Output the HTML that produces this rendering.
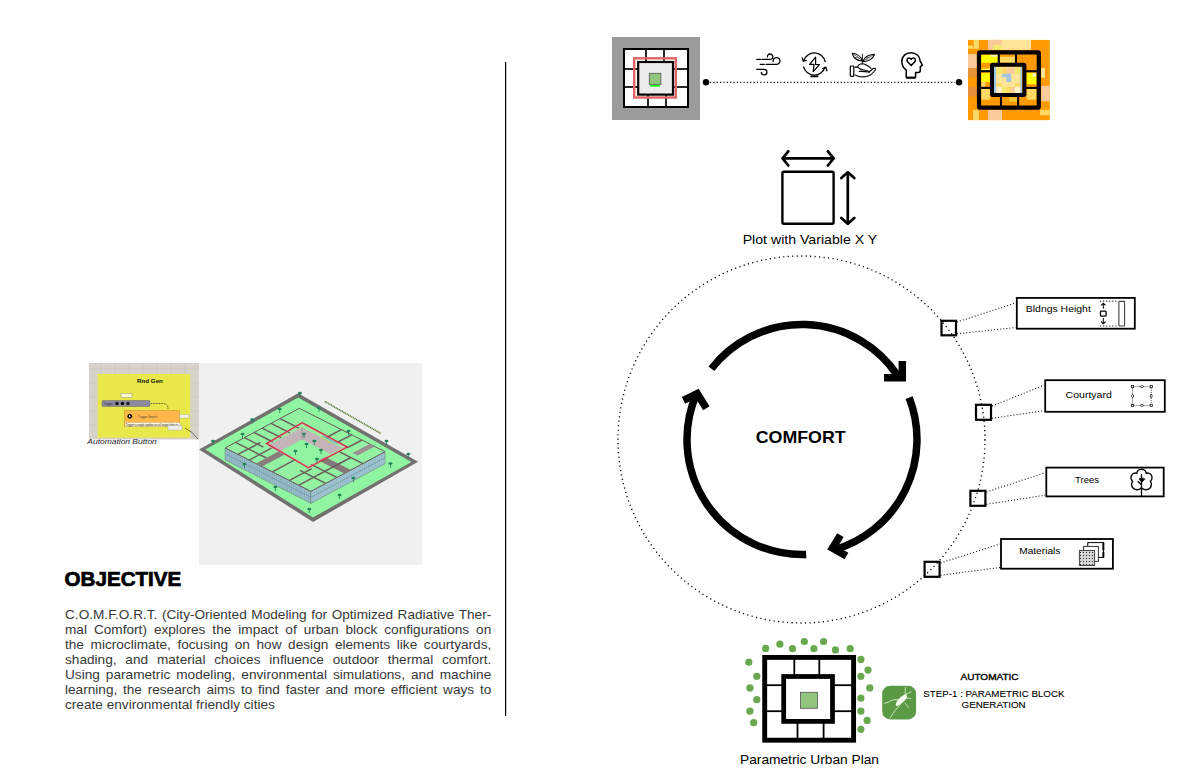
<!DOCTYPE html>
<html><head><meta charset="utf-8"><style>
html,body{margin:0;padding:0;background:#fff;width:1192px;height:783px;overflow:hidden;position:relative;font-family:"Liberation Sans",sans-serif}
#para{position:absolute;left:64.6px;top:607.8px;width:387.5px;transform:scaleX(1.1);transform-origin:0 0;color:#383838;font-size:12.4px;line-height:15px}
.pl{white-space:nowrap;text-align:justify;text-align-last:justify;height:15px}
.pl.last{text-align-last:left}
</style></head><body>
<svg width="1192" height="783" viewBox="0 0 1192 783" style="position:absolute;left:0;top:0"><rect x="505" y="62" width="1.2" height="654" fill="#000"/>
<rect x="612" y="37" width="88" height="83" fill="#9b9b9b"/><rect x="623" y="48" width="66" height="60" fill="#fff"/><rect x="624" y="49" width="64" height="58" fill="none" stroke="#000" stroke-width="2"/><line x1="646" y1="49" x2="646" y2="62" stroke="#000" stroke-width="1.7"/><line x1="664" y1="49" x2="664" y2="62" stroke="#000" stroke-width="1.7"/><line x1="648" y1="94" x2="648" y2="107" stroke="#000" stroke-width="1.7"/><line x1="666" y1="94" x2="666" y2="107" stroke="#000" stroke-width="1.7"/><line x1="624" y1="69" x2="638" y2="69" stroke="#000" stroke-width="1.7"/><line x1="672" y1="69" x2="688" y2="69" stroke="#000" stroke-width="1.7"/><line x1="624" y1="87" x2="638" y2="87" stroke="#000" stroke-width="1.7"/><line x1="672" y1="87" x2="688" y2="87" stroke="#000" stroke-width="1.7"/><rect x="634.2" y="58.3" width="41.6" height="39.2" fill="none" stroke="#e06666" stroke-width="2.4"/><rect x="638.2" y="62" width="34.8" height="32.6" fill="#ececec" stroke="#000" stroke-width="2.2"/><rect x="649.3" y="73.3" width="11.6" height="11" fill="#93c47d" stroke="#555" stroke-width="0.8"/><rect x="650" y="85" width="10" height="1.6" fill="#00ff00"/>
<circle cx="706" cy="82.2" r="3.2" fill="#000"/>
<circle cx="959" cy="82.2" r="3.2" fill="#000"/>
<line x1="710" y1="82.3" x2="955" y2="82.3" stroke="#000" stroke-width="1.15" stroke-dasharray="1.15 2.2"/>
<rect x="968.00" y="39.93" width="81.78" height="80.17" fill="#ff9900"/><rect x="973.59" y="39.93" width="5.37" height="8.80" fill="#ffd966"/><rect x="968.00" y="45.51" width="5.04" height="3.22" fill="#ffd966"/><rect x="988.07" y="39.93" width="13.95" height="9.87" fill="#f9cb9c"/><rect x="992.90" y="44.98" width="9.12" height="4.83" fill="#f1ea6f"/><rect x="1002.03" y="39.93" width="28.98" height="9.87" fill="#ffe599"/><rect x="968.00" y="54.10" width="8.80" height="13.95" fill="#f9cb9c"/><rect x="968.00" y="68.05" width="8.80" height="9.12" fill="#e69138"/><rect x="968.00" y="86.83" width="8.80" height="9.66" fill="#e69138"/><rect x="973.05" y="109.90" width="5.90" height="10.20" fill="#ffd966"/><rect x="1041.20" y="68.05" width="3.76" height="9.66" fill="#ffe599"/><rect x="1041.20" y="85.76" width="8.59" height="15.56" fill="#f9cb9c"/><rect x="1040.12" y="109.90" width="9.66" height="5.37" fill="#ffd966"/><rect x="988.07" y="109.90" width="13.95" height="10.20" fill="#f9cb9c"/><rect x="981.10" y="54.63" width="16.63" height="8.26" fill="#ffff00"/><rect x="990.76" y="54.63" width="6.98" height="2.15" fill="#fff2cc"/><rect x="999.88" y="54.63" width="15.02" height="8.26" fill="#ffd966"/><rect x="999.88" y="54.63" width="15.02" height="2.15" fill="#ff9900"/><rect x="981.10" y="68.59" width="8.80" height="2.15" fill="#ffff00"/><rect x="985.39" y="69.12" width="4.51" height="1.61" fill="#fff2cc"/><rect x="981.10" y="72.88" width="8.80" height="9.12" fill="#ffff00"/><rect x="981.10" y="82.00" width="4.29" height="4.83" fill="#ffd966"/><rect x="981.10" y="88.98" width="8.80" height="10.73" fill="#ffd966"/><rect x="1026.71" y="72.88" width="9.66" height="11.27" fill="#ffff00"/><rect x="1032.61" y="73.42" width="3.22" height="3.22" fill="#fff2cc"/><rect x="1026.71" y="88.98" width="9.66" height="10.73" fill="#ffd966"/><rect x="1009.00" y="97.03" width="8.05" height="4.83" fill="#f1c232"/><rect x="993.98" y="66.76" width="28.12" height="26.51" fill="#ffe599"/><rect x="996.12" y="67.51" width="5.90" height="6.44" fill="#f1ea6f"/><rect x="1002.03" y="67.51" width="4.29" height="6.44" fill="#ffd966"/><rect x="1006.32" y="67.51" width="8.59" height="6.44" fill="#f9cb9c"/><rect x="1014.90" y="67.51" width="6.44" height="6.44" fill="#f1ea6f"/><rect x="1002.03" y="73.95" width="9.12" height="3.22" fill="#9fc5e8"/><rect x="1006.32" y="77.17" width="4.83" height="4.83" fill="#9fc5e8"/><rect x="996.12" y="83.07" width="5.90" height="3.76" fill="#ffd966"/><rect x="1014.90" y="83.07" width="6.44" height="3.76" fill="#ffd966"/><rect x="996.12" y="86.83" width="5.90" height="5.90" fill="#fff2cc"/><rect x="1002.03" y="86.83" width="4.29" height="5.90" fill="#f1ea6f"/><rect x="1006.32" y="86.83" width="4.83" height="5.90" fill="#ffd966"/><rect x="1011.15" y="86.83" width="3.76" height="5.90" fill="#f9cb9c"/><rect x="1014.90" y="86.83" width="6.44" height="5.90" fill="#fff2cc"/><rect x="993.98" y="66.76" width="2.15" height="26.51" fill="#9fc5e8"/><rect x="1020.59" y="66.76" width="1.50" height="26.51" fill="#9fc5e8"/><rect x="979" y="52.3" width="59.8" height="55.4" fill="none" stroke="#000" stroke-width="4.2" rx="1"/><rect x="992" y="64.85" width="32.4" height="30.2" fill="none" stroke="#000" stroke-width="4" rx="0.8"/><line x1="998.8" y1="54" x2="998.8" y2="63" stroke="#000" stroke-width="2.1"/><line x1="1016" y1="54" x2="1016" y2="63" stroke="#000" stroke-width="2.1"/><line x1="1001" y1="96.5" x2="1001" y2="106" stroke="#000" stroke-width="2.1"/><line x1="1018.1" y1="96.5" x2="1018.1" y2="106" stroke="#000" stroke-width="2.1"/><line x1="981" y1="71.2" x2="990" y2="71.2" stroke="#000" stroke-width="2.1"/><line x1="1026" y1="71.2" x2="1037" y2="71.2" stroke="#000" stroke-width="2.1"/><line x1="981" y1="87.9" x2="990" y2="87.9" stroke="#000" stroke-width="2.1"/><line x1="1026" y1="87.9" x2="1037" y2="87.9" stroke="#000" stroke-width="2.1"/>

<g fill="none" stroke="#000" stroke-width="1.3" stroke-linecap="round">
 <path d="M756.8,59.4 H760.6 M762.3,59.4 H770.1 A2.7,2.7 0 1 0 767.4,56.9"/>
 <path d="M760.2,64.35 H764.3 M766,64.35 H776.5 A3.4,3.4 0 1 0 773.2,61.6"/>
 <path d="M756.8,69.3 H764.1 A2.8,2.8 0 1 1 761.3,72.3"/>
</g>
<g fill="none" stroke="#000" stroke-width="1.3" stroke-linecap="round">
 <path d="M825.12,61.55 A11.1,11.1 0 0 0 803.72,60.69"/>
 <path d="M803.58,66.92 A11.1,11.1 0 0 0 824.93,67.24"/>
 <path d="M802.2,57.9 L803.3,61.1 L806.3,60.3" stroke-linejoin="miter"/>
 <path d="M822.6,68.5 L825.9,67.4 L826.9,70.8" stroke-linejoin="miter"/>
 <path d="M815.6,57.2 L809.6,64.3 L814,64.4 L813.2,71.6 L819.4,64.7 L815.6,64.4 Z" stroke-linejoin="round" stroke-width="1.25"/>
 <path d="M811,76.4 H817.6" stroke-width="1.6"/>
</g>
<g fill="none" stroke="#000" stroke-width="1.1" stroke-linejoin="round" stroke-linecap="round">
 <path d="M852.3,53.3 C857.5,53.8 861.5,57 862.4,61 C857,61 853,57.5 852.3,53.3 Z"/>
 <path d="M853.5,54.5 C857,56 860,58.5 862,60.5 M855,57.5 L858,57.2 M857.5,59.5 L859.5,58.5" stroke-width="0.55"/>
 <path d="M874.6,54.2 C869,54.6 864,57.3 862.8,61.6 C868.5,61.8 873,58.5 874.6,54.2 Z"/>
 <path d="M873.5,55.2 C869.5,56.5 866,59 863.5,61 M866.5,57.5 L869.5,57.8 M865,59.8 L868,60" stroke-width="0.55"/>
 <path d="M862.4,54.2 V63.5" stroke-width="0.9"/>
 <path d="M855,67.1 H857.5 C858,65.5 860,63.8 862.4,63.7 C864.5,63.7 866,64.5 867.1,65.5 C868.5,66.3 870,67 871,68.4"/>
 <path d="M857.5,67.2 C859,68.8 861.5,69.8 864,70 C866.5,70.2 868.5,70.8 869.3,71.8 L871.5,70 L873,68.6 C874.5,68 876,68.8 875.5,69.8 C874,72 872,74 869.5,75.5 C866.5,76.8 863,77 860.6,76.7 C858.5,76.4 856.8,75.5 855,75"/>
 <path d="M859.3,71.4 C862.5,71.2 866.5,71.6 869.3,72.3"/>
 <rect x="850.3" y="66" width="3.5" height="10.3" rx="0.8" stroke-width="1.2"/>
</g>
<g fill="none" stroke="#000" stroke-width="1.5" stroke-linejoin="round">
 <path d="M906.2,77.8 V70.2 C903.2,67.8 901.8,64.8 901.8,61.6 C901.8,56.2 905.7,52.7 911,52.7 C916.3,52.7 919.8,56.3 920.1,60.8 L922.4,65.2 L920.3,66.7 V70.6 C920.3,71.8 919.6,72.5 918.3,72.5 H915.6 V77.8"/>
 <path d="M906.2,77.7 H915.6" stroke-width="2.2"/>
 <path d="M911.2,65.5 L907.8,62 C906.3,60.5 907,58 909,58 C910,58 910.8,58.7 911.2,59.3 C911.6,58.7 912.4,58 913.4,58 C915.4,58 916.1,60.5 914.6,62 Z"/>
</g>

<g fill="none" stroke="#000" stroke-width="2.7" stroke-linecap="round" stroke-linejoin="round">
<rect x="782.4" y="171.8" width="51.2" height="52" rx="1.5" stroke-width="2.4"/>
<path d="M783,158.4 H833"/>
<path d="M788.3,151.3 L782.6,158.4 L788.3,165.5"/>
<path d="M827.9,151.3 L833.6,158.4 L827.9,165.5"/>
<path d="M847.8,172.5 V223.5"/>
<path d="M841.3,178 L847.8,172.3 L854.3,178"/>
<path d="M841.3,218 L847.8,223.8 L854.3,218"/>
</g>
<text x="742.7" y="244.3" font-family="Liberation Sans" font-size="13.5" font-weight="normal" font-style="normal" fill="#000" textLength="134.5" lengthAdjust="spacingAndGlyphs">Plot with Variable X Y</text>
<circle cx="801.5" cy="439.5" r="183.5" fill="none" stroke="#000" stroke-width="1.35" stroke-dasharray="1.15 3.35"/>
<g fill="none" stroke="#000" stroke-width="7.5"><path d="M711.38,368.70 A115,115 0 0 1 897.34,375.19"/><path stroke-linejoin="miter" d="M902.3,361.0 L902.3,377.8 L884.0,377.8"/><path d="M909.14,397.73 A115,115 0 0 1 833.70,550.05"/><path stroke-linejoin="miter" d="M840.4,535.1 L832.5,548.2 L846.5,556.1"/><path d="M806.21,554.42 A115,115 0 0 1 696.54,393.64"/><path stroke-linejoin="miter" d="M683.5,400.3 L697.3,393.7 L706.3,408.2"/></g>
<text x="755.7" y="442.9" font-family="Liberation Sans" font-size="16.3" font-weight="bold" font-style="normal" fill="#000" textLength="90" lengthAdjust="spacingAndGlyphs">COMFORT</text>
<line x1="957.0" y1="322.0" x2="1015.8" y2="302.9" stroke="#111" stroke-width="1.05" stroke-dasharray="1.05 2.05"/><line x1="957.0" y1="333.8" x2="1015.8" y2="327.5" stroke="#111" stroke-width="1.05" stroke-dasharray="1.05 2.05"/><rect x="941.5" y="320.8" width="14.5" height="14.5" fill="none" stroke="#000" stroke-width="2.2"/><rect x="1016.8" y="297.9" width="118" height="30.8" fill="#fff" stroke="#000" stroke-width="1.8"/><line x1="992" y1="406.0" x2="1044.2" y2="385.2" stroke="#111" stroke-width="1.05" stroke-dasharray="1.05 2.05"/><line x1="992" y1="418.3" x2="1044.2" y2="410.6" stroke="#111" stroke-width="1.05" stroke-dasharray="1.05 2.05"/><rect x="976" y="404.8" width="15" height="15" fill="none" stroke="#000" stroke-width="2.2"/><rect x="1045.2" y="380.2" width="119.6" height="31.6" fill="#fff" stroke="#000" stroke-width="1.8"/><line x1="986.4" y1="492.0" x2="1045.3" y2="472.6" stroke="#111" stroke-width="1.05" stroke-dasharray="1.05 2.05"/><line x1="986.4" y1="504.3" x2="1045.3" y2="495.20000000000005" stroke="#111" stroke-width="1.05" stroke-dasharray="1.05 2.05"/><rect x="970.4" y="490.8" width="15" height="15" fill="none" stroke="#000" stroke-width="2.2"/><rect x="1046.3" y="467.6" width="117.4" height="28.8" fill="#fff" stroke="#000" stroke-width="1.8"/><line x1="940.6" y1="563.0" x2="1000" y2="544" stroke="#111" stroke-width="1.05" stroke-dasharray="1.05 2.05"/><line x1="940.6" y1="575.3" x2="1000" y2="567.5" stroke="#111" stroke-width="1.05" stroke-dasharray="1.05 2.05"/><rect x="924.6" y="561.8" width="15" height="15" fill="none" stroke="#000" stroke-width="2.2"/><rect x="1001" y="539" width="111.9" height="29.7" fill="#fff" stroke="#000" stroke-width="1.8"/>
<text x="1025.8" y="311.8" font-family="Liberation Sans" font-size="8.7" font-weight="normal" font-style="normal" fill="#000" textLength="65" lengthAdjust="spacingAndGlyphs">Bldngs Height</text>
<text x="1065.6" y="398.1" font-family="Liberation Sans" font-size="8.7" font-weight="normal" font-style="normal" fill="#000" textLength="46.2" lengthAdjust="spacingAndGlyphs">Courtyard</text>
<text x="1075.1" y="483.1" font-family="Liberation Sans" font-size="8.7" font-weight="normal" font-style="normal" fill="#000" textLength="24" lengthAdjust="spacingAndGlyphs">Trees</text>
<text x="1019.2" y="553.9" font-family="Liberation Sans" font-size="8.7" font-weight="normal" font-style="normal" fill="#000" textLength="41.2" lengthAdjust="spacingAndGlyphs">Materials</text>
<g fill="none" stroke="#000">
<path d="M1100,301.1 H1117 M1100,326 H1117" stroke-width="1.2" stroke-dasharray="1.2 1.85" stroke="#333"/>
<rect x="1118.9" y="301.4" width="5.7" height="24.6" rx="0.6" stroke="#444" stroke-width="1.1"/>
<path d="M1103.3,304 V308.7 M1103.3,318.1 V322.8" stroke-width="1"/>
<path d="M1101.1,305.4 L1103.3,303.4 L1105.5,305.4 M1101.1,321.6 L1103.3,323.6 L1105.5,321.6" stroke-width="1.2"/>
<rect x="1100.5" y="311.1" width="5.6" height="5" rx="0.8" fill="#fff" stroke-width="1.3"/>
</g>
<g fill="none" stroke="#000" stroke-width="0.7">
<rect x="1132.6" y="386.6" width="18.6" height="18.8" stroke-dasharray="1 1"/>
<g fill="#fff" stroke-width="0.7">
<rect x="1131.5" y="385.5" width="2.2" height="2.2"/><rect x="1150.1" y="385.5" width="2.2" height="2.2"/>
<rect x="1131.5" y="404.3" width="2.2" height="2.2"/><rect x="1150.1" y="404.3" width="2.2" height="2.2"/>
<ellipse cx="1141.9" cy="386.6" rx="1.6" ry="1"/><ellipse cx="1141.9" cy="405.4" rx="1.6" ry="1"/>
<ellipse cx="1132.6" cy="396" rx="1" ry="1.6"/><ellipse cx="1151.2" cy="396" rx="1" ry="1.6"/>
</g></g>
<g fill="none" stroke="#000" stroke-width="2.8"><circle cx="1141.5" cy="474" r="4.1"/><circle cx="1135.6" cy="477.6" r="3.9"/><circle cx="1147.4" cy="477.6" r="3.9"/><circle cx="1137.1" cy="484.3" r="4.8"/><circle cx="1145.9" cy="484.3" r="4.8"/></g><g fill="#fff" stroke="none"><circle cx="1141.5" cy="474" r="4.1"/><circle cx="1135.6" cy="477.6" r="3.9"/><circle cx="1147.4" cy="477.6" r="3.9"/><circle cx="1137.1" cy="484.3" r="4.8"/><circle cx="1145.9" cy="484.3" r="4.8"/></g>
<g fill="none" stroke="#000" stroke-width="1.3" stroke-linecap="butt">
<path d="M1141.5,474.2 V496.5"/><path d="M1137.7,481.2 L1141.5,484.8"/><path d="M1145,478.7 L1141.5,482" stroke-width="1.1"/>
</g>
<defs><pattern id="hatch" width="3" height="3" patternUnits="userSpaceOnUse"><rect width="3" height="3" fill="#cfcfcf"/><rect width="1" height="1" fill="#333"/><rect x="1.5" y="1.5" width="1" height="1" fill="#f4f4f4"/></pattern></defs>
<g stroke="#000" stroke-width="1">
<rect x="1087.8" y="542.6" width="15.6" height="14.8" fill="#fff"/>
<path d="M1103.4,542.5 V550.6 M1103.4,552 V557.6" stroke-width="1.9"/>
<rect x="1083.6" y="546.4" width="14.8" height="15" fill="#fff" stroke="#333"/>
<rect x="1079.4" y="550.5" width="15.2" height="15" fill="url(#hatch)" stroke="#444"/>
</g>
<circle cx="765.6" cy="648.4" r="3.6" fill="#6aa84f"/><circle cx="779.9" cy="644.2" r="3.6" fill="#6aa84f"/><circle cx="792.5" cy="648.7" r="3.6" fill="#6aa84f"/><circle cx="804.3" cy="641.5" r="3.6" fill="#6aa84f"/><circle cx="813.9" cy="648.7" r="3.6" fill="#6aa84f"/><circle cx="823.6" cy="641.5" r="3.6" fill="#6aa84f"/><circle cx="835.4" cy="649.9" r="3.6" fill="#6aa84f"/><circle cx="850.2" cy="648.7" r="3.6" fill="#6aa84f"/><circle cx="748.8" cy="662.2" r="3.6" fill="#6aa84f"/><circle cx="756.8" cy="676.3" r="3.6" fill="#6aa84f"/><circle cx="749.9" cy="687.9" r="3.6" fill="#6aa84f"/><circle cx="756.8" cy="699.7" r="3.6" fill="#6aa84f"/><circle cx="749.9" cy="711.2" r="3.6" fill="#6aa84f"/><circle cx="753.7" cy="722.7" r="3.6" fill="#6aa84f"/><circle cx="860.9" cy="659.4" r="3.6" fill="#6aa84f"/><circle cx="868.0" cy="670.1" r="3.6" fill="#6aa84f"/><circle cx="860.9" cy="676.3" r="3.6" fill="#6aa84f"/><circle cx="869.8" cy="687.9" r="3.6" fill="#6aa84f"/><circle cx="860.9" cy="698.2" r="3.6" fill="#6aa84f"/><circle cx="860.9" cy="711.2" r="3.6" fill="#6aa84f"/><circle cx="867.1" cy="720.4" r="3.6" fill="#6aa84f"/><circle cx="860.9" cy="729.3" r="3.6" fill="#6aa84f"/><rect x="764.7" y="657.4" width="88.9" height="82.8" fill="#fff" stroke="#000" stroke-width="4.9"/><line x1="794.3" y1="659" x2="794.3" y2="676" stroke="#000" stroke-width="1.8"/><line x1="819.3" y1="659" x2="819.3" y2="676" stroke="#000" stroke-width="1.8"/><line x1="797.5" y1="722" x2="797.5" y2="739" stroke="#000" stroke-width="1.8"/><line x1="823.6" y1="722" x2="823.6" y2="739" stroke="#000" stroke-width="1.8"/><line x1="766" y1="685.2" x2="783" y2="685.2" stroke="#000" stroke-width="1.8"/><line x1="833" y1="685.2" x2="852" y2="685.2" stroke="#000" stroke-width="1.8"/><line x1="766" y1="711.2" x2="783" y2="711.2" stroke="#000" stroke-width="1.8"/><line x1="833" y1="711.2" x2="852" y2="711.2" stroke="#000" stroke-width="1.8"/><rect x="783.7" y="676.5" width="48.8" height="44.9" fill="#fff" stroke="#000" stroke-width="4.75"/><rect x="800.4" y="692.3" width="17" height="16" fill="#93c47d" stroke="#555" stroke-width="0.8"/>
<text x="740" y="764.3" font-family="Liberation Sans" font-size="13.6" font-weight="normal" font-style="normal" fill="#000" textLength="139" lengthAdjust="spacingAndGlyphs">Parametric Urban Plan</text>
<rect x="882.2" y="685.7" width="33.9" height="33.7" rx="8" fill="#5b9a44"/>
<g stroke="#e4f3dc" fill="none" stroke-width="0.8" stroke-linecap="round" stroke-linejoin="round">
<path d="M884.6,703.2 L888,702.5 L890.6,700.8 L894,699.8 L897.8,699.6"/>
<path d="M900.2,704.4 L896,709.5 L893,713.5 L890,718"/>
<path d="M905.3,687.6 V695"/>
<path d="M905.5,694.5 L911,692"/>
<path d="M906.5,698 L910.7,698.4"/>
<path d="M905,703 L908.6,708"/>
</g>
<path d="M895.8,705.2 C895.5,702 900,697 904,694.8 C906,694 907.5,695.5 907,697.5 C905,701 900,705 897.5,705.8 C896.6,706.1 896,705.9 895.8,705.2 Z" fill="#f6fbf2"/>
<text stroke="#000" stroke-width="0.32" x="960.5" y="680" font-family="Liberation Sans" font-size="8.2" font-weight="normal" font-style="normal" fill="#000" textLength="58.1" lengthAdjust="spacingAndGlyphs">AUTOMATIC</text>
<text stroke="#000" stroke-width="0.1" x="923.3" y="697" font-family="Liberation Sans" font-size="8.2" font-weight="normal" font-style="normal" fill="#000" textLength="141.2" lengthAdjust="spacingAndGlyphs">STEP-1 : PARAMETRIC BLOCK</text>
<text stroke="#000" stroke-width="0.1" x="961.5" y="707.8" font-family="Liberation Sans" font-size="8.2" font-weight="normal" font-style="normal" fill="#000" textLength="64.2" lengthAdjust="spacingAndGlyphs">GENERATION</text>
<rect x="199" y="363" width="223" height="202" fill="#f0f0f0"/><rect x="89" y="363" width="110" height="76.5" fill="#d6d2c9"/><line x1="101" y1="363" x2="101" y2="439" stroke="#c6c2b9" stroke-width="0.5"/><line x1="115" y1="363" x2="115" y2="439" stroke="#c6c2b9" stroke-width="0.5"/><line x1="129" y1="363" x2="129" y2="439" stroke="#c6c2b9" stroke-width="0.5"/><line x1="143" y1="363" x2="143" y2="439" stroke="#c6c2b9" stroke-width="0.5"/><line x1="157" y1="363" x2="157" y2="439" stroke="#c6c2b9" stroke-width="0.5"/><line x1="171" y1="363" x2="171" y2="439" stroke="#c6c2b9" stroke-width="0.5"/><line x1="185" y1="363" x2="185" y2="439" stroke="#c6c2b9" stroke-width="0.5"/><line x1="89" y1="369" x2="199" y2="369" stroke="#c6c2b9" stroke-width="0.5"/><line x1="89" y1="383" x2="199" y2="383" stroke="#c6c2b9" stroke-width="0.5"/><line x1="89" y1="397" x2="199" y2="397" stroke="#c6c2b9" stroke-width="0.5"/><line x1="89" y1="411" x2="199" y2="411" stroke="#c6c2b9" stroke-width="0.5"/><line x1="89" y1="425" x2="199" y2="425" stroke="#c6c2b9" stroke-width="0.5"/><rect x="97.6" y="374" width="92.6" height="63.6" fill="#e8e84a"/><text x="150" y="383" font-family="Liberation Sans" font-size="6.2" font-weight="bold" text-anchor="middle" fill="#111">Rnd Gen</text><rect x="121" y="393.5" width="11" height="4" fill="#fffbd0" stroke="#777" stroke-width="0.4"/><rect x="102" y="400.5" width="48" height="6" rx="1" fill="#8a8aa0" stroke="#555" stroke-width="0.4"/><text x="103.5" y="404.8" font-family="Liberation Sans" font-size="3.2" fill="#333">Trigger</text><circle cx="117" cy="403.5" r="1.8" fill="#111"/><circle cx="122.5" cy="403.5" r="1.8" fill="#111"/><circle cx="128" cy="403.5" r="1.8" fill="#222"/><path d="M151,403.5 H164 Q168,404 168,409" stroke="#222" stroke-width="0.7" stroke-dasharray="1 0.6" fill="none"/><rect x="124.5" y="410.5" width="55" height="16" fill="#ffb74a" stroke="#c98a2a" stroke-width="0.5"/><circle cx="129.8" cy="416.3" r="2.4" fill="#000"/><path d="M129,415 L131,416.3 L129,417.6 Z" fill="#fff"/><text x="138" y="417.5" font-family="Liberation Sans" font-size="3" fill="#444">Trigger Switch</text><rect x="125" y="422.5" width="55" height="4" fill="#fff8d8" stroke="#999" stroke-width="0.3"/><text x="125.8" y="425.5" font-family="Liberation Sans" font-size="3.2" fill="#222" textLength="52" lengthAdjust="spacingAndGlyphs">Trigger a single update on all target objects</text><rect x="179.5" y="414.5" width="9.5" height="3.6" fill="#f5f0e0" stroke="#888" stroke-width="0.3"/><rect x="168" y="425.5" width="14" height="4.5" fill="#eee" stroke="#888" stroke-width="0.3"/><path d="M185,428 Q192,431 198,439" stroke="#222" stroke-width="0.6" fill="none"/><text x="87.3" y="444.3" font-family="Liberation Sans" font-size="8" font-style="italic" fill="#1a1a2a" textLength="69.5" lengthAdjust="spacingAndGlyphs">Automation Button</text><polygon points="298.1,393.3 418,461.7 313,522 199.1,449.4" fill="#737070"/><polygon points="298.2,397.6 411.5,462 313,517.5 205.3,449.6" fill="#90f5a0"/><line x1="324.7" y1="401.4" x2="380.9" y2="433.5" stroke="#5a7d2e" stroke-width="1.6" stroke-dasharray="1.2 0.6"/><polygon points="225.2,447.9 310.9,491.3 310.9,503.3 225.2,459.9" fill="#98c0cc" stroke="#6a6a6a" stroke-width="0.5"/><polygon points="385.0,451.7 310.9,491.3 310.9,503.3 385.0,463.7" fill="#a2cad6" stroke="#6a6a6a" stroke-width="0.5"/><line x1="227.3" y1="449.0" x2="227.3" y2="461.0" stroke="#6f8f9c" stroke-width="0.35"/><line x1="383.1" y1="452.7" x2="383.1" y2="464.7" stroke="#7a9aa6" stroke-width="0.35"/><line x1="229.5" y1="450.1" x2="229.5" y2="462.1" stroke="#6f8f9c" stroke-width="0.35"/><line x1="381.3" y1="453.7" x2="381.3" y2="465.7" stroke="#7a9aa6" stroke-width="0.35"/><line x1="231.6" y1="451.2" x2="231.6" y2="463.2" stroke="#6f8f9c" stroke-width="0.35"/><line x1="379.4" y1="454.7" x2="379.4" y2="466.7" stroke="#7a9aa6" stroke-width="0.35"/><line x1="233.8" y1="452.2" x2="233.8" y2="464.2" stroke="#6f8f9c" stroke-width="0.35"/><line x1="377.6" y1="455.7" x2="377.6" y2="467.7" stroke="#7a9aa6" stroke-width="0.35"/><line x1="235.9" y1="453.3" x2="235.9" y2="465.3" stroke="#6f8f9c" stroke-width="0.35"/><line x1="375.7" y1="456.6" x2="375.7" y2="468.6" stroke="#7a9aa6" stroke-width="0.35"/><line x1="238.1" y1="454.4" x2="238.1" y2="466.4" stroke="#6f8f9c" stroke-width="0.35"/><line x1="373.9" y1="457.6" x2="373.9" y2="469.6" stroke="#7a9aa6" stroke-width="0.35"/><line x1="240.2" y1="455.5" x2="240.2" y2="467.5" stroke="#6f8f9c" stroke-width="0.35"/><line x1="372.0" y1="458.6" x2="372.0" y2="470.6" stroke="#7a9aa6" stroke-width="0.35"/><line x1="242.3" y1="456.6" x2="242.3" y2="468.6" stroke="#6f8f9c" stroke-width="0.35"/><line x1="370.2" y1="459.6" x2="370.2" y2="471.6" stroke="#7a9aa6" stroke-width="0.35"/><line x1="244.5" y1="457.7" x2="244.5" y2="469.7" stroke="#6f8f9c" stroke-width="0.35"/><line x1="368.3" y1="460.6" x2="368.3" y2="472.6" stroke="#7a9aa6" stroke-width="0.35"/><line x1="246.6" y1="458.7" x2="246.6" y2="470.7" stroke="#6f8f9c" stroke-width="0.35"/><line x1="366.5" y1="461.6" x2="366.5" y2="473.6" stroke="#7a9aa6" stroke-width="0.35"/><line x1="248.8" y1="459.8" x2="248.8" y2="471.8" stroke="#6f8f9c" stroke-width="0.35"/><line x1="364.6" y1="462.6" x2="364.6" y2="474.6" stroke="#7a9aa6" stroke-width="0.35"/><line x1="250.9" y1="460.9" x2="250.9" y2="472.9" stroke="#6f8f9c" stroke-width="0.35"/><line x1="362.8" y1="463.6" x2="362.8" y2="475.6" stroke="#7a9aa6" stroke-width="0.35"/><line x1="253.1" y1="462.0" x2="253.1" y2="474.0" stroke="#6f8f9c" stroke-width="0.35"/><line x1="360.9" y1="464.6" x2="360.9" y2="476.6" stroke="#7a9aa6" stroke-width="0.35"/><line x1="255.2" y1="463.1" x2="255.2" y2="475.1" stroke="#6f8f9c" stroke-width="0.35"/><line x1="359.1" y1="465.6" x2="359.1" y2="477.6" stroke="#7a9aa6" stroke-width="0.35"/><line x1="257.3" y1="464.2" x2="257.3" y2="476.2" stroke="#6f8f9c" stroke-width="0.35"/><line x1="357.2" y1="466.5" x2="357.2" y2="478.5" stroke="#7a9aa6" stroke-width="0.35"/><line x1="259.5" y1="465.3" x2="259.5" y2="477.3" stroke="#6f8f9c" stroke-width="0.35"/><line x1="355.4" y1="467.5" x2="355.4" y2="479.5" stroke="#7a9aa6" stroke-width="0.35"/><line x1="261.6" y1="466.3" x2="261.6" y2="478.3" stroke="#6f8f9c" stroke-width="0.35"/><line x1="353.5" y1="468.5" x2="353.5" y2="480.5" stroke="#7a9aa6" stroke-width="0.35"/><line x1="263.8" y1="467.4" x2="263.8" y2="479.4" stroke="#6f8f9c" stroke-width="0.35"/><line x1="351.7" y1="469.5" x2="351.7" y2="481.5" stroke="#7a9aa6" stroke-width="0.35"/><line x1="265.9" y1="468.5" x2="265.9" y2="480.5" stroke="#6f8f9c" stroke-width="0.35"/><line x1="349.8" y1="470.5" x2="349.8" y2="482.5" stroke="#7a9aa6" stroke-width="0.35"/><line x1="268.0" y1="469.6" x2="268.0" y2="481.6" stroke="#6f8f9c" stroke-width="0.35"/><line x1="347.9" y1="471.5" x2="347.9" y2="483.5" stroke="#7a9aa6" stroke-width="0.35"/><line x1="270.2" y1="470.7" x2="270.2" y2="482.7" stroke="#6f8f9c" stroke-width="0.35"/><line x1="346.1" y1="472.5" x2="346.1" y2="484.5" stroke="#7a9aa6" stroke-width="0.35"/><line x1="272.3" y1="471.8" x2="272.3" y2="483.8" stroke="#6f8f9c" stroke-width="0.35"/><line x1="344.2" y1="473.5" x2="344.2" y2="485.5" stroke="#7a9aa6" stroke-width="0.35"/><line x1="274.5" y1="472.9" x2="274.5" y2="484.9" stroke="#6f8f9c" stroke-width="0.35"/><line x1="342.4" y1="474.5" x2="342.4" y2="486.5" stroke="#7a9aa6" stroke-width="0.35"/><line x1="276.6" y1="473.9" x2="276.6" y2="485.9" stroke="#6f8f9c" stroke-width="0.35"/><line x1="340.5" y1="475.5" x2="340.5" y2="487.5" stroke="#7a9aa6" stroke-width="0.35"/><line x1="278.8" y1="475.0" x2="278.8" y2="487.0" stroke="#6f8f9c" stroke-width="0.35"/><line x1="338.7" y1="476.4" x2="338.7" y2="488.4" stroke="#7a9aa6" stroke-width="0.35"/><line x1="280.9" y1="476.1" x2="280.9" y2="488.1" stroke="#6f8f9c" stroke-width="0.35"/><line x1="336.8" y1="477.4" x2="336.8" y2="489.4" stroke="#7a9aa6" stroke-width="0.35"/><line x1="283.0" y1="477.2" x2="283.0" y2="489.2" stroke="#6f8f9c" stroke-width="0.35"/><line x1="335.0" y1="478.4" x2="335.0" y2="490.4" stroke="#7a9aa6" stroke-width="0.35"/><line x1="285.2" y1="478.3" x2="285.2" y2="490.3" stroke="#6f8f9c" stroke-width="0.35"/><line x1="333.1" y1="479.4" x2="333.1" y2="491.4" stroke="#7a9aa6" stroke-width="0.35"/><line x1="287.3" y1="479.4" x2="287.3" y2="491.4" stroke="#6f8f9c" stroke-width="0.35"/><line x1="331.3" y1="480.4" x2="331.3" y2="492.4" stroke="#7a9aa6" stroke-width="0.35"/><line x1="289.5" y1="480.4" x2="289.5" y2="492.4" stroke="#6f8f9c" stroke-width="0.35"/><line x1="329.4" y1="481.4" x2="329.4" y2="493.4" stroke="#7a9aa6" stroke-width="0.35"/><line x1="291.6" y1="481.5" x2="291.6" y2="493.5" stroke="#6f8f9c" stroke-width="0.35"/><line x1="327.6" y1="482.4" x2="327.6" y2="494.4" stroke="#7a9aa6" stroke-width="0.35"/><line x1="293.8" y1="482.6" x2="293.8" y2="494.6" stroke="#6f8f9c" stroke-width="0.35"/><line x1="325.7" y1="483.4" x2="325.7" y2="495.4" stroke="#7a9aa6" stroke-width="0.35"/><line x1="295.9" y1="483.7" x2="295.9" y2="495.7" stroke="#6f8f9c" stroke-width="0.35"/><line x1="323.9" y1="484.4" x2="323.9" y2="496.4" stroke="#7a9aa6" stroke-width="0.35"/><line x1="298.0" y1="484.8" x2="298.0" y2="496.8" stroke="#6f8f9c" stroke-width="0.35"/><line x1="322.0" y1="485.4" x2="322.0" y2="497.4" stroke="#7a9aa6" stroke-width="0.35"/><line x1="300.2" y1="485.9" x2="300.2" y2="497.9" stroke="#6f8f9c" stroke-width="0.35"/><line x1="320.2" y1="486.3" x2="320.2" y2="498.3" stroke="#7a9aa6" stroke-width="0.35"/><line x1="302.3" y1="487.0" x2="302.3" y2="499.0" stroke="#6f8f9c" stroke-width="0.35"/><line x1="318.3" y1="487.3" x2="318.3" y2="499.3" stroke="#7a9aa6" stroke-width="0.35"/><line x1="304.5" y1="488.0" x2="304.5" y2="500.0" stroke="#6f8f9c" stroke-width="0.35"/><line x1="316.5" y1="488.3" x2="316.5" y2="500.3" stroke="#7a9aa6" stroke-width="0.35"/><line x1="306.6" y1="489.1" x2="306.6" y2="501.1" stroke="#6f8f9c" stroke-width="0.35"/><line x1="314.6" y1="489.3" x2="314.6" y2="501.3" stroke="#7a9aa6" stroke-width="0.35"/><line x1="308.8" y1="490.2" x2="308.8" y2="502.2" stroke="#6f8f9c" stroke-width="0.35"/><line x1="312.8" y1="490.3" x2="312.8" y2="502.3" stroke="#7a9aa6" stroke-width="0.35"/><line x1="225.2" y1="453.9" x2="310.9" y2="497.3" stroke="#5f7f8a" stroke-width="0.5"/><line x1="385.0" y1="457.7" x2="310.9" y2="497.3" stroke="#5f7f8a" stroke-width="0.5"/><polygon points="299.3,408.3 385.0,451.7 310.9,491.3 225.2,447.9" fill="#93f2a2" stroke="#6a5a5a" stroke-width="1"/><clipPath id="cy"><polygon points="302.0,427.4 342.2,447.8 307.4,466.4 267.1,446.0" fill="#000" /></clipPath><polygon points="302.0,427.4 342.2,447.8 307.4,466.4 267.1,446.0" fill="#c2b4b8" /><g clip-path="url(#cy)"><polygon points="302.0,439.4 368.0,472.8 310.9,503.3 244.9,469.9" fill="#90f5a0" /></g><line x1="302.0" y1="427.4" x2="302.0" y2="439.4" stroke="#888" stroke-width="0.6"/><polygon points="278.3,451.6 284.3,454.7 262.1,466.6 256.1,463.5" fill="#8a7d7d" /><polygon points="325.2,456.9 350.9,469.9 344.2,473.5 318.5,460.5" fill="#857878" /><polygon points="369.6,443.9 374.7,446.5 357.7,455.6 352.5,453.0" fill="#9c9090" /><line x1="280.0" y1="418.6" x2="298.9" y2="428.1" stroke="#6a5c5c" stroke-width="1.45"/><line x1="271.1" y1="423.3" x2="290.0" y2="432.9" stroke="#6a5c5c" stroke-width="1.45"/><line x1="262.2" y1="428.1" x2="281.1" y2="437.6" stroke="#6a5c5c" stroke-width="1.45"/><line x1="254.1" y1="432.5" x2="273.0" y2="442.0" stroke="#6a5c5c" stroke-width="1.45"/><line x1="244.5" y1="437.6" x2="263.3" y2="447.2" stroke="#6a5c5c" stroke-width="1.45"/><line x1="341.3" y1="429.6" x2="326.5" y2="437.5" stroke="#6a5c5c" stroke-width="1.45"/><line x1="351.6" y1="434.8" x2="336.8" y2="442.7" stroke="#6a5c5c" stroke-width="1.45"/><line x1="361.9" y1="440.0" x2="347.0" y2="447.9" stroke="#6a5c5c" stroke-width="1.45"/><line x1="339.6" y1="451.9" x2="362.8" y2="463.6" stroke="#6a5c5c" stroke-width="1.45"/><line x1="260.3" y1="442.5" x2="238.1" y2="454.4" stroke="#6a5c5c" stroke-width="1.45"/><line x1="271.4" y1="448.2" x2="249.2" y2="460.1" stroke="#6a5c5c" stroke-width="1.45"/><line x1="294.6" y1="459.9" x2="272.3" y2="471.8" stroke="#6a5c5c" stroke-width="1.45"/><line x1="311.7" y1="468.6" x2="289.5" y2="480.4" stroke="#6a5c5c" stroke-width="1.45"/><line x1="235.6" y1="442.4" x2="266.4" y2="458.0" stroke="#6a5c5c" stroke-width="1.45"/><line x1="311.1" y1="464.4" x2="336.8" y2="477.4" stroke="#6a5c5c" stroke-width="1.45"/><line x1="300.0" y1="470.4" x2="325.7" y2="483.4" stroke="#6a5c5c" stroke-width="1.45"/><line x1="350.8" y1="457.5" x2="298.9" y2="485.2" stroke="#6a5c5c" stroke-width="1.45"/><polygon points="302.1,422.8 346.9,447.1 308.4,467.7 266.8,443.5" fill="none" stroke="#d42a44" stroke-width="1.6"/><polygon points="302.2,423.7 345.3,447.0 308.3,466.8 268.4,443.5" fill="none" stroke="#f7a0b8" stroke-width="0.5"/><line x1="322.3" y1="436.1" x2="336.9" y2="443.5" stroke="#3fa0d0" stroke-width="0.8"/><line x1="320.1" y1="437.3" x2="331.2" y2="443.0" stroke="#c8d040" stroke-width="0.8"/><line x1="300" y1="393" x2="300" y2="397" stroke="#1f7a4f" stroke-width="0.8"/><ellipse cx="300" cy="393" rx="2" ry="1.3" fill="#21855a"/><line x1="279.7" y1="409" x2="279.7" y2="413" stroke="#1f7a4f" stroke-width="0.8"/><ellipse cx="279.7" cy="409" rx="2" ry="1.3" fill="#21855a"/><line x1="252.3" y1="419.5" x2="252.3" y2="423.5" stroke="#1f7a4f" stroke-width="0.8"/><ellipse cx="252.3" cy="419.5" rx="2" ry="1.3" fill="#21855a"/><line x1="242.5" y1="434" x2="242.5" y2="438" stroke="#1f7a4f" stroke-width="0.8"/><ellipse cx="242.5" cy="434" rx="2" ry="1.3" fill="#21855a"/><line x1="213" y1="441" x2="213" y2="445" stroke="#1f7a4f" stroke-width="0.8"/><ellipse cx="213" cy="441" rx="2" ry="1.3" fill="#21855a"/><line x1="319" y1="408" x2="319" y2="412" stroke="#1f7a4f" stroke-width="0.8"/><ellipse cx="319" cy="408" rx="2" ry="1.3" fill="#21855a"/><line x1="348.5" y1="431" x2="348.5" y2="435" stroke="#1f7a4f" stroke-width="0.8"/><ellipse cx="348.5" cy="431" rx="2" ry="1.3" fill="#21855a"/><line x1="386.5" y1="441" x2="386.5" y2="445" stroke="#1f7a4f" stroke-width="0.8"/><ellipse cx="386.5" cy="441" rx="2" ry="1.3" fill="#21855a"/><line x1="408.3" y1="454" x2="408.3" y2="458" stroke="#1f7a4f" stroke-width="0.8"/><ellipse cx="408.3" cy="454" rx="2" ry="1.3" fill="#21855a"/><line x1="390.5" y1="463.5" x2="390.5" y2="467.5" stroke="#1f7a4f" stroke-width="0.8"/><ellipse cx="390.5" cy="463.5" rx="2" ry="1.3" fill="#21855a"/><line x1="353.3" y1="478" x2="353.3" y2="482" stroke="#1f7a4f" stroke-width="0.8"/><ellipse cx="353.3" cy="478" rx="2" ry="1.3" fill="#21855a"/><line x1="339.5" y1="495" x2="339.5" y2="499" stroke="#1f7a4f" stroke-width="0.8"/><ellipse cx="339.5" cy="495" rx="2" ry="1.3" fill="#21855a"/><line x1="309.3" y1="509" x2="309.3" y2="513" stroke="#1f7a4f" stroke-width="0.8"/><ellipse cx="309.3" cy="509" rx="2" ry="1.3" fill="#21855a"/><line x1="275.3" y1="487" x2="275.3" y2="491" stroke="#1f7a4f" stroke-width="0.8"/><ellipse cx="275.3" cy="487" rx="2" ry="1.3" fill="#21855a"/><line x1="244.5" y1="464" x2="244.5" y2="468" stroke="#1f7a4f" stroke-width="0.8"/><ellipse cx="244.5" cy="464" rx="2" ry="1.3" fill="#21855a"/><line x1="304" y1="434" x2="304" y2="438" stroke="#1f7a4f" stroke-width="0.8"/><ellipse cx="304" cy="434" rx="2" ry="1.3" fill="#21855a"/><line x1="306.5" y1="444" x2="306.5" y2="448" stroke="#1f7a4f" stroke-width="0.8"/><ellipse cx="306.5" cy="444" rx="2" ry="1.3" fill="#21855a"/><line x1="314.3" y1="441" x2="314.3" y2="445" stroke="#1f7a4f" stroke-width="0.8"/><ellipse cx="314.3" cy="441" rx="2" ry="1.3" fill="#21855a"/><line x1="317" y1="459" x2="317" y2="463" stroke="#1f7a4f" stroke-width="0.8"/><ellipse cx="317" cy="459" rx="2" ry="1.3" fill="#21855a"/><line x1="321" y1="450" x2="321" y2="454" stroke="#1f7a4f" stroke-width="0.8"/><ellipse cx="321" cy="450" rx="2" ry="1.3" fill="#21855a"/><line x1="295.5" y1="451" x2="295.5" y2="455" stroke="#1f7a4f" stroke-width="0.8"/><ellipse cx="295.5" cy="451" rx="2" ry="1.3" fill="#21855a"/>
<text stroke="#000" stroke-width="0.7" x="64.6" y="586" font-family="Liberation Sans" font-size="19.5" font-weight="bold" font-style="normal" fill="#000" textLength="116.7" lengthAdjust="spacingAndGlyphs">OBJECTIVE</text></svg>
<div id="para"><div class="pl">C.O.M.F.O.R.T. (City-Oriented Modeling for Optimized Radiative Ther-</div><div class="pl">mal Comfort) explores the impact of urban block configurations on</div><div class="pl">the microclimate, focusing on how design elements like courtyards,</div><div class="pl">shading, and material choices influence outdoor thermal comfort.</div><div class="pl">Using parametric modeling, environmental simulations, and machine</div><div class="pl">learning, the research aims to find faster and more efficient ways to</div><div class="pl last">create environmental friendly cities</div></div>
</body></html>
